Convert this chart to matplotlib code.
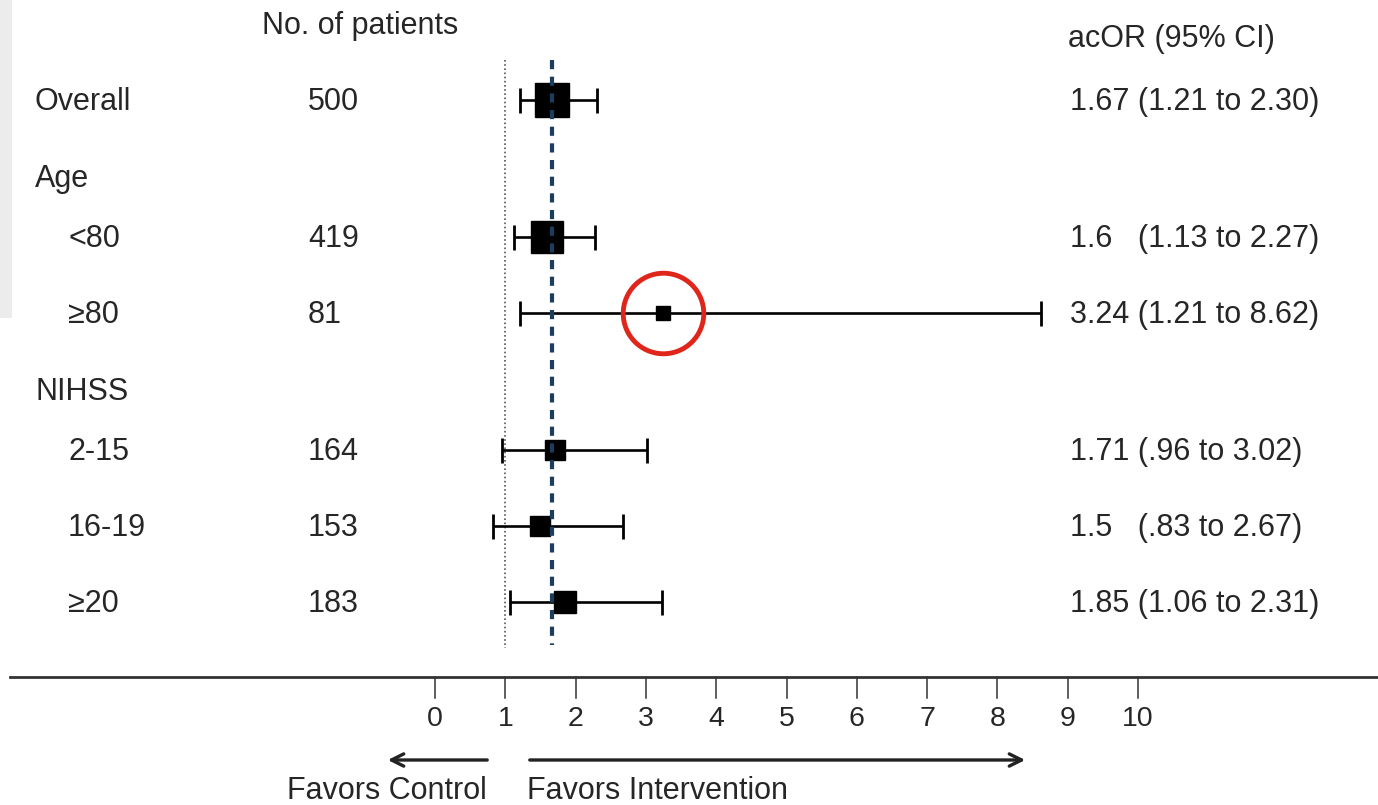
import numpy as np
import matplotlib.pyplot as plt
from matplotlib.patches import Rectangle

plt.rcParams['font.family'] = ['Liberation Sans', 'DejaVu Sans']

# data
labels = ["Overall", "Age", "<80", "≥80", "NIHSS", "2-15", "16-19", "≥20"]
is_header = [False, True, False, False, True, False, False, False]
n_patients = [500, None, 419, 81, None, 164, 153, 183]
acor = [1.67, None, 1.60, 3.24, None, 1.71, 1.50, 1.85]
ci_low = [1.21, None, 1.13, 1.21, None, 0.96, 0.83, 1.06]
ci_text = ["1.67 (1.21 to 2.30)", "", "1.6   (1.13 to 2.27)", "3.24 (1.21 to 8.62)", "",
           "1.71 (.96 to 3.02)", "1.5   (.83 to 2.67)", "1.85 (1.06 to 2.31)"]
# upper whisker ends as drawn (last row is drawn past its printed 2.31)
ci_high = [2.30, None, 2.27, 8.62, None, 3.02, 2.67, 3.23]
xticks = list(range(0, 11))

# layout (pixel rows, figure is 1378 x 805)
W, H = 1378, 805
row_y = [100, 177, 237, 313, 390, 450, 526, 602]
x0_px, px_per = 435, 70.3


def px(x):
    return (x - x0_px) / px_per


fig = plt.figure(figsize=(W / 100, H / 100), dpi=100)
ax = fig.add_axes([0, 0, 1, 1])
ax.set_xlim(px(0), px(W))
ax.set_ylim(H, 0)
ax.axis('off')

# light grey strip on the left edge
ax.add_patch(Rectangle((px(0), 0), 12 / px_per, 318, color='#ececec', lw=0, zorder=0))

fs = 22
tc = '#262626'
ax.text(px(262), 26, "No. of patients", fontsize=fs, va='center', color=tc)
ax.text(px(1068), 39, "acOR (95% CI)", fontsize=fs, va='center', color=tc)

for i, lab in enumerate(labels):
    y = row_y[i]
    lx = 35 if is_header[i] or i == 0 else 68
    ax.text(px(lx), y + 2, lab, fontsize=fs, va='center', color=tc)
    if n_patients[i] is not None:
        ax.text(px(308), y + 2, str(n_patients[i]), fontsize=fs, va='center', color=tc)
        ax.text(px(1070), y + 2, ci_text[i], fontsize=fs, va='center', color=tc)
        ms = 1.12 * np.sqrt(n_patients[i])
        ax.errorbar([acor[i]], [y],
                    xerr=[[acor[i] - ci_low[i]], [ci_high[i] - acor[i]]],
                    fmt='s', color='black', ms=ms, elinewidth=1.9, capsize=9, capthick=2.0, zorder=3)

# reference lines
ax.plot([1, 1], [60, 648], color='#555', lw=1.2, ls=(0, (1, 1.5)), zorder=1)
ax.plot([acor[0], acor[0]], [60, 645], color='#1c3d5e', lw=3, ls=(0, (2.2, 1.8)), zorder=4)

# highlight circle
ax.plot([acor[3]], [row_y[3]], 'o', ms=58, mfc='none', mec='#e0251b', mew=3.5, zorder=5)

# x axis
ax.plot([px(10), px(W)], [677, 677], color='#333', lw=2.0)
for t in xticks:
    ax.plot([t, t], [677, 698], color='#333', lw=1.1)
    ax.text(t, 719, str(t), fontsize=20.5, ha='center', va='center', color=tc)

ax.annotate("", xy=(px(385), 760), xytext=(px(490), 760),
            arrowprops=dict(arrowstyle='->', lw=2.4, color='#222', mutation_scale=22))
ax.annotate("", xy=(px(1028), 760), xytext=(px(527), 760),
            arrowprops=dict(arrowstyle='->', lw=2.4, color='#222', mutation_scale=22))
ax.text(px(287), 791, "Favors Control", fontsize=fs, va='center', color=tc)
ax.text(px(527), 791, "Favors Intervention", fontsize=fs, va='center', color=tc)

fig.savefig("out.png", dpi=100)
